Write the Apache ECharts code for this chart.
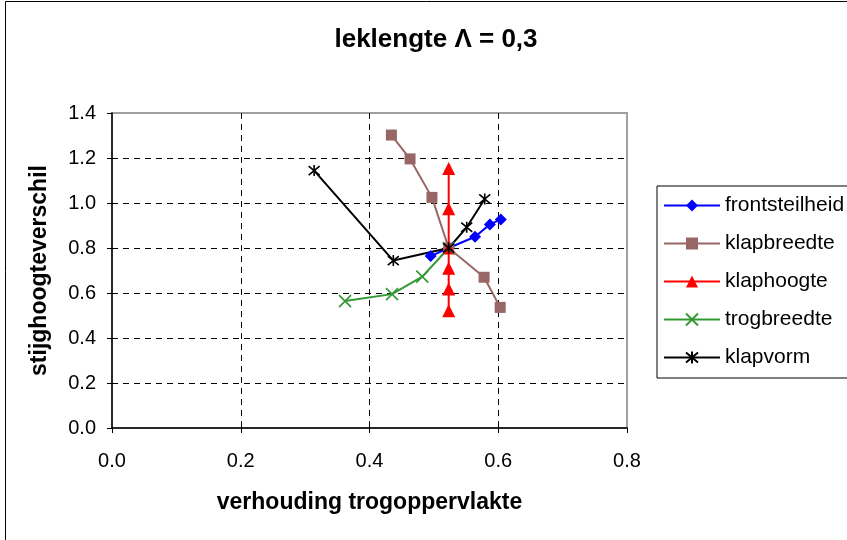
<!DOCTYPE html>
<html>
<head>
<meta charset="utf-8">
<script src="https://cdn.jsdelivr.net/npm/echarts@6/dist/echarts.min.js"></script>
<style>html,body{margin:0;padding:0;background:#fff}#c{width:847px;height:540px}</style>
</head>
<body>
<div id="c"></div>
<script>
var titleText = 'leklengte \u039B = 0,3';
var xName = 'verhouding trogoppervlakte';
var yName = 'stijghoogteverschil';
var xTicks = [0, 0.2, 0.4, 0.6, 0.8];
var yTicks = [0, 0.2, 0.4, 0.6, 0.8, 1.0, 1.2, 1.4];

var frontsteilheid = [[0.495, 0.764], [0.523, 0.800], [0.564, 0.850], [0.587, 0.905], [0.604, 0.927]];
var klapbreedte = [[0.434, 1.302], [0.463, 1.196], [0.497, 1.025], [0.523, 0.800], [0.578, 0.670], [0.603, 0.536]];
var klaphoogte = [[0.523, 1.153], [0.523, 0.975], [0.523, 0.800], [0.523, 0.710], [0.523, 0.618], [0.523, 0.521]];
var trogbreedte = [[0.362, 0.564], [0.435, 0.595], [0.482, 0.673], [0.523, 0.800]];
var klapvorm = [[0.314, 1.144], [0.437, 0.744], [0.523, 0.800], [0.551, 0.892], [0.579, 1.018]];

var FONT = 'Liberation Sans, Arial, sans-serif';
var crossPath = 'path://M0,0L10,10M10,0L0,10';
var starPath = 'path://M0,0L10,10M10,0L0,10M5,-1L5,11';

function ser(name, data, color, symbol, size, strokeOnly) {
  return {
    name: name, type: 'line', data: data, symbol: symbol, symbolSize: size,
    showAllSymbol: true, animation: false,
    lineStyle: { color: color, width: 2 },
    itemStyle: strokeOnly ? { color: 'rgba(0,0,0,0)', borderColor: color, borderWidth: 1.6 } : { color: color, borderWidth: 0 },
    emphasis: { disabled: true }
  };
}

var chart = echarts.init(document.getElementById('c'), null, { renderer: 'canvas' });
chart.setOption({
  backgroundColor: '#fff',
  animation: false,
  textStyle: { fontFamily: FONT },
  title: {
    text: titleText, left: 431, top: 22, textAlign: 'center',
    textStyle: { fontFamily: FONT, fontSize: 26, fontWeight: 'bold', color: '#000' }
  },
  graphic: [{
    type: 'rect', shape: { x: 5.5, y: 1.5, width: 1000, height: 1000 },
    style: { fill: 'none', stroke: '#000', lineWidth: 1 }, silent: true, z: -1
  }],
  legend: {
    orient: 'vertical', left: 657, top: 186,
    padding: [9, 40, 10, 6], itemGap: 17, itemWidth: 56, itemHeight: 15,
    borderColor: '#000', borderWidth: 1, backgroundColor: '#fff',
    textStyle: { fontFamily: FONT, fontSize: 21, color: '#000' },
    data: ['frontsteilheid', 'klapbreedte', 'klaphoogte', 'trogbreedte', 'klapvorm']
  },
  grid: {
    left: 112, right: 220, top: 113, bottom: 112,
    show: true, borderColor: '#a0a0a0', borderWidth: 2
  },
  xAxis: {
    type: 'value', min: xTicks[0], max: xTicks[xTicks.length - 1], interval: 0.2,
    name: xName, nameLocation: 'middle', nameGap: 63,
    nameTextStyle: { fontFamily: FONT, fontSize: 23, fontWeight: 'bold', color: '#000' },
    axisLine: { show: true, lineStyle: { color: '#000', width: 1.5 } },
    axisTick: { show: true, length: 5, lineStyle: { color: '#000' } },
    axisLabel: { fontFamily: FONT, fontSize: 20, color: '#000', margin: 23, formatter: function (v) { return v.toFixed(1); } },
    splitLine: { show: true, lineStyle: { color: ['rgba(0,0,0,0)', '#000', '#000', '#000', 'rgba(0,0,0,0)'], type: [6, 5], width: 1 } }
  },
  yAxis: {
    type: 'value', min: yTicks[0], max: yTicks[yTicks.length - 1], interval: 0.2,
    name: yName, nameLocation: 'middle', nameGap: 61, nameRotate: 90,
    nameTextStyle: { fontFamily: FONT, fontSize: 23, fontWeight: 'bold', color: '#000' },
    axisLine: { show: true, lineStyle: { color: '#000', width: 1.5 } },
    axisTick: { show: true, length: 5, lineStyle: { color: '#000' } },
    axisLabel: { fontFamily: FONT, fontSize: 20, color: '#000', margin: 16, formatter: function (v) { return v.toFixed(1); } },
    splitLine: { show: true, lineStyle: { color: ['rgba(0,0,0,0)', '#000', '#000', '#000', '#000', '#000', '#000', 'rgba(0,0,0,0)'], type: [6, 5], width: 1 } }
  },
  series: [
    ser('frontsteilheid', frontsteilheid, '#0000ff', 'diamond', 12, false),
    ser('klapbreedte', klapbreedte, '#996666', 'rect', 11, false),
    ser('klaphoogte', klaphoogte, '#ff0000', 'triangle', 13, false),
    ser('trogbreedte', trogbreedte, '#339933', crossPath, 12, true),
    ser('klapvorm', klapvorm, '#000000', starPath, 11, true)
  ]
});
</script>
</body>
</html>
